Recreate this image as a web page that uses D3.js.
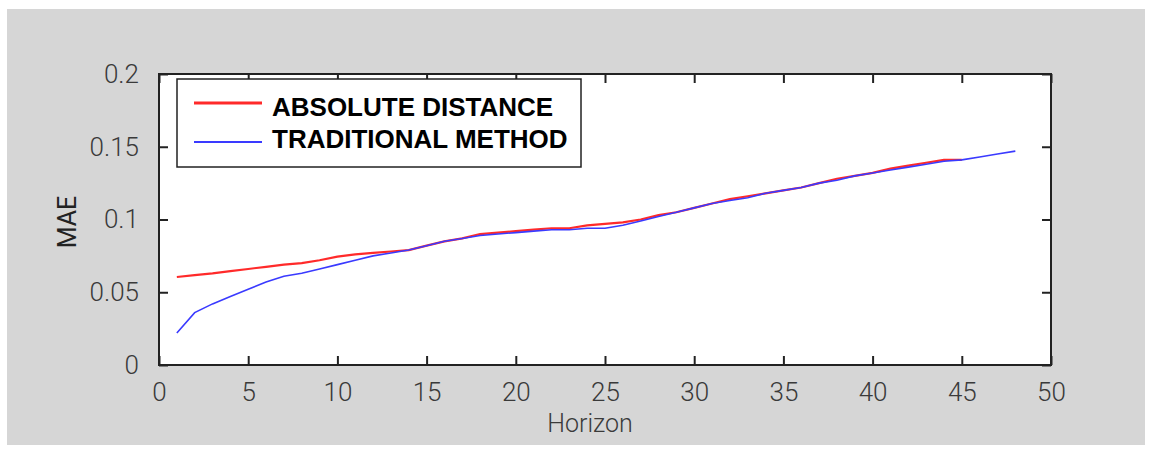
<!DOCTYPE html>
<html>
<head>
<meta charset="utf-8">
<script src="https://cdn.jsdelivr.net/npm/d3@7"></script>
<style>
  html, body { margin: 0; padding: 0; background: #ffffff; }
  svg { display: block; }
</style>
</head>
<body>
<svg id="chart" width="1152" height="452"></svg>
<script>
// Mean absolute error by forecast horizon for two methods
const horizonAbs = d3.range(1, 46);
const maeAbsolute = [
  0.0605, 0.0618, 0.063, 0.0645, 0.066, 0.0675, 0.069, 0.070, 0.072, 0.0745,
  0.076, 0.077, 0.078, 0.079, 0.082, 0.085, 0.087, 0.090, 0.091, 0.092,
  0.093, 0.094, 0.094, 0.096, 0.097, 0.098, 0.100, 0.103, 0.105, 0.108,
  0.111, 0.114, 0.116, 0.118, 0.120, 0.122, 0.125, 0.128, 0.130, 0.132,
  0.135, 0.137, 0.139, 0.141, 0.141
];
const horizonTrad = d3.range(1, 49);
const maeTraditional = [
  0.022, 0.036, 0.042, 0.047, 0.052, 0.057, 0.061, 0.063, 0.066, 0.069,
  0.072, 0.075, 0.077, 0.079, 0.082, 0.085, 0.087, 0.089, 0.090, 0.091,
  0.092, 0.093, 0.093, 0.094, 0.094, 0.096, 0.099, 0.102, 0.105, 0.108,
  0.111, 0.113, 0.115, 0.118, 0.120, 0.122, 0.125, 0.127, 0.130, 0.132,
  0.134, 0.136, 0.138, 0.140, 0.141, 0.143, 0.145, 0.147
];
const xTicks = [0, 5, 10, 15, 20, 25, 30, 35, 40, 45, 50];
const yTicks = [0, 0.05, 0.1, 0.15, 0.2];
const yTickLabels = ["0", "0.05", "0.1", "0.15", "0.2"];
const seriesNames = ["ABSOLUTE DISTANCE", "TRADITIONAL METHOD"];
const seriesColors = ["#ff2a2a", "#3a3aff"];

const svg = d3.select("#chart");

// grey figure panel
svg.append("rect")
  .attr("x", 7).attr("y", 9).attr("width", 1138).attr("height", 436)
  .attr("fill", "#d6d6d6");

const plot = { left: 159, top: 74, right: 1051, bottom: 365 };

const x = d3.scaleLinear().domain([0, 50]).range([plot.left, plot.right]);
const y = d3.scaleLinear().domain([0, 0.2]).range([plot.bottom, plot.top]);

// white plotting area
svg.append("rect")
  .attr("x", plot.left).attr("y", plot.top)
  .attr("width", plot.right - plot.left).attr("height", plot.bottom - plot.top)
  .attr("fill", "#ffffff");

const tickLen = 9;
const tickFont = "Roboto, 'Liberation Sans', sans-serif";

// bottom axis with labels, ticks pointing inward
const xAxis = d3.axisBottom(x).tickValues(xTicks).tickSize(-tickLen).tickPadding(tickLen + 9)
  .tickFormat(d3.format("d"));
const gx = svg.append("g").attr("transform", `translate(0,${plot.bottom})`).call(xAxis);
// top axis, ticks only
const gxt = svg.append("g").attr("transform", `translate(0,${plot.top})`)
  .call(d3.axisTop(x).tickValues(xTicks).tickSize(-tickLen).tickFormat(""));
// left axis with labels
const yAxis = d3.axisLeft(y).tickValues(yTicks).tickSize(-tickLen).tickPadding(tickLen + 11)
  .tickFormat((d, i) => yTickLabels[i]);
const gy = svg.append("g").attr("transform", `translate(${plot.left},0)`).call(yAxis);
// right axis, ticks only
const gyr = svg.append("g").attr("transform", `translate(${plot.right},0)`)
  .call(d3.axisRight(y).tickValues(yTicks).tickSize(-tickLen).tickFormat(""));

[gx, gxt, gy, gyr].forEach(g => {
  g.select(".domain").remove();
  g.selectAll(".tick line").attr("stroke", "#222").attr("stroke-width", 2);
  g.selectAll(".tick text")
    .attr("fill", "#3a3a3a")
    .style("font-family", tickFont)
    .style("font-weight", 300)
    .style("font-size", "26px");
});

// axes box
svg.append("rect")
  .attr("x", plot.left).attr("y", plot.top)
  .attr("width", plot.right - plot.left).attr("height", plot.bottom - plot.top)
  .attr("fill", "none").attr("stroke", "#222").attr("stroke-width", 2);

// data lines
const lineAbs = d3.line().x((d, i) => x(horizonAbs[i])).y(d => y(d));
const lineTrad = d3.line().x((d, i) => x(horizonTrad[i])).y(d => y(d));

svg.append("path")
  .datum(maeAbsolute)
  .attr("d", lineAbs)
  .attr("fill", "none")
  .attr("stroke", seriesColors[0])
  .attr("stroke-width", 2.2);

svg.append("path")
  .datum(maeTraditional)
  .attr("d", lineTrad)
  .attr("fill", "none")
  .attr("stroke", seriesColors[1])
  .attr("stroke-width", 1.6);

// axis titles
svg.append("text")
  .attr("x", 590).attr("y", 432)
  .attr("text-anchor", "middle")
  .attr("fill", "#3a3a3a")
  .style("font-family", tickFont)
  .style("font-weight", 300)
  .style("font-size", "25px")
  .text("Horizon");

svg.append("text")
  .attr("transform", "translate(76,222) rotate(-90)")
  .attr("text-anchor", "middle")
  .attr("fill", "#222")
  .style("font-family", tickFont)
  .style("font-size", "25px")
  .text("MAE");

// legend
const legend = svg.append("g");
legend.append("rect")
  .attr("x", 177).attr("y", 79).attr("width", 404).attr("height", 88)
  .attr("fill", "#ffffff").attr("stroke", "#222").attr("stroke-width", 1.5);

const legendRows = [103, 142];
const legendBaselines = [116, 148];
seriesNames.forEach((name, i) => {
  legend.append("line")
    .attr("x1", 194).attr("x2", 262)
    .attr("y1", legendRows[i]).attr("y2", legendRows[i])
    .attr("stroke", seriesColors[i])
    .attr("stroke-width", i === 0 ? 3 : 2);
  legend.append("text")
    .attr("x", 272).attr("y", legendBaselines[i])
    .attr("fill", "#000")
    .style("font-family", "'Liberation Sans', Arial, sans-serif")
    .style("font-weight", "bold")
    .style("font-size", "26px")
    .text(name);
});
</script>
</body>
</html>
